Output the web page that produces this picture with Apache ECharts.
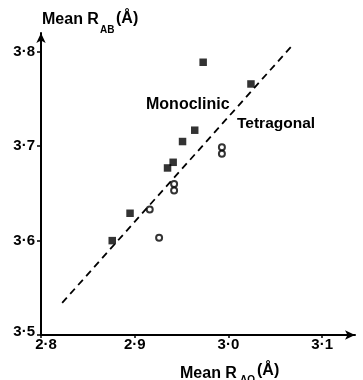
<!DOCTYPE html>
<html>
<head>
<meta charset="utf-8">
<script src="https://cdn.jsdelivr.net/npm/echarts@6/dist/echarts.min.js"></script>
<style>html,body{margin:0;padding:0;background:#fff}#c{width:363px;height:380px}</style>
</head>
<body>
<div id="c"></div>
<script>
// Monoclinic (filled squares)
const monoX = [2.876, 2.895, 2.935, 2.941, 2.951, 2.964, 2.973, 3.024];
const monoY = [3.600, 3.629, 3.677, 3.683, 3.705, 3.717, 3.789, 3.766];
// Tetragonal (open circles)
const tetraX = [2.916, 2.926, 2.942, 2.942, 2.993, 2.993];
const tetraY = [3.633, 3.603, 3.660, 3.653, 3.699, 3.692];
// Dashed reference line
const fitX = [2.8226, 3.0673];
const fitY = [3.534, 3.806];
// Ticks
const xTicks = [2.8, 2.9, 3.0, 3.1];
const yTicks = [3.5, 3.6, 3.7, 3.8];
const xTitle = ['Mean R', 'AO', '(Å)'];
const yTitle = ['Mean R', 'AB', '(Å)'];
const phaseLabels = ['Monoclinic', 'Tetragonal'];

const FONT = '"Liberation Sans", Arial, Helvetica, sans-serif';
const fmt = v => v.toFixed(1).replace('.', '\u00B7');
const zip = (a, b) => a.map((v, i) => [v, b[i]]);

const chart = echarts.init(document.getElementById('c'), null, {renderer: 'canvas'});
const lblBase = {fontFamily: FONT, fontWeight: 'bold', fontSize: 15, color: '#000'};

chart.setOption({
  animation: false,
  backgroundColor: '#fff',
  grid: {left: 41, top: 33, width: 314, height: 302, containLabel: false, outerBoundsMode: 'none'},
  xAxis: {
    type: 'value', min: 2.8, max: 3.135, interval: 0.1,
    splitLine: {show: false},
    axisLine: {show: true, lineStyle: {color: '#000', width: 2}, symbol: ['none', 'arrow'], symbolSize: [7, 10]},
    axisTick: {show: true, length: 3, lineStyle: {color: '#000', width: 1.5}, customValues: xTicks},
    axisLabel: Object.assign({}, lblBase, {
      margin: 2, customValues: xTicks,
      formatter: v => Math.abs(v - 2.8) < 1e-6 ? '{f|' + fmt(v) + '}' : fmt(v),
      rich: {f: Object.assign({}, lblBase, {padding: [0, 0, 0, 10]})}
    })
  },
  yAxis: {
    type: 'value', min: 3.5, max: 3.82, interval: 0.1,
    splitLine: {show: false},
    axisLine: {show: true, lineStyle: {color: '#000', width: 2}, symbol: ['none', 'arrow'], symbolSize: [7, 10]},
    axisTick: {show: true, length: 4, lineStyle: {color: '#000', width: 1.5}, customValues: yTicks},
    axisLabel: Object.assign({}, lblBase, {
      margin: 6, customValues: yTicks,
      formatter: v => Math.abs(v - 3.5) < 1e-6 ? '{f|' + fmt(v) + '}' : fmt(v),
      rich: {f: Object.assign({}, lblBase, {padding: [0, 0, 7, 0]})}
    })
  },
  series: [
    {
      type: 'line', data: zip(fitX, fitY), symbol: 'none', silent: true,
      lineStyle: {color: '#000', width: 1.8, type: [7, 5]}, z: 1
    },
    {
      name: phaseLabels[0], type: 'scatter', data: zip(monoX, monoY), symbol: 'rect', symbolSize: 7.5,
      itemStyle: {color: '#000'}, z: 3
    },
    {
      name: phaseLabels[1], type: 'scatter', data: zip(tetraX, tetraY), symbol: 'circle', symbolSize: 6,
      itemStyle: {color: '#fff', borderColor: '#000', borderWidth: 2}, z: 3
    }
  ],
  graphic: [
    {type: 'text', left: 42, top: 12, style: {text: yTitle[0], font: 'bold 16px ' + FONT, fill: '#000'}},
    {type: 'text', left: 100, top: 25, style: {text: yTitle[1], font: 'bold 10px ' + FONT, fill: '#000'}},
    {type: 'text', left: 116, top: 11, style: {text: yTitle[2], font: 'bold 16px ' + FONT, fill: '#000'}},
    {type: 'text', left: 180, top: 366, style: {text: xTitle[0], font: 'bold 16px ' + FONT, fill: '#000'}},
    {type: 'text', left: 240, top: 375, style: {text: xTitle[1], font: 'bold 10px ' + FONT, fill: '#000'}},
    {type: 'text', left: 257, top: 363, style: {text: xTitle[2], font: 'bold 16px ' + FONT, fill: '#000'}},
    {type: 'text', left: 146, top: 97, style: {text: phaseLabels[0], font: 'bold 16px ' + FONT, fill: '#000'}},
    {type: 'text', left: 237, top: 116, style: {text: phaseLabels[1], font: 'bold 15.5px ' + FONT, fill: '#000'}}
  ]
});
</script>
</body>
</html>
